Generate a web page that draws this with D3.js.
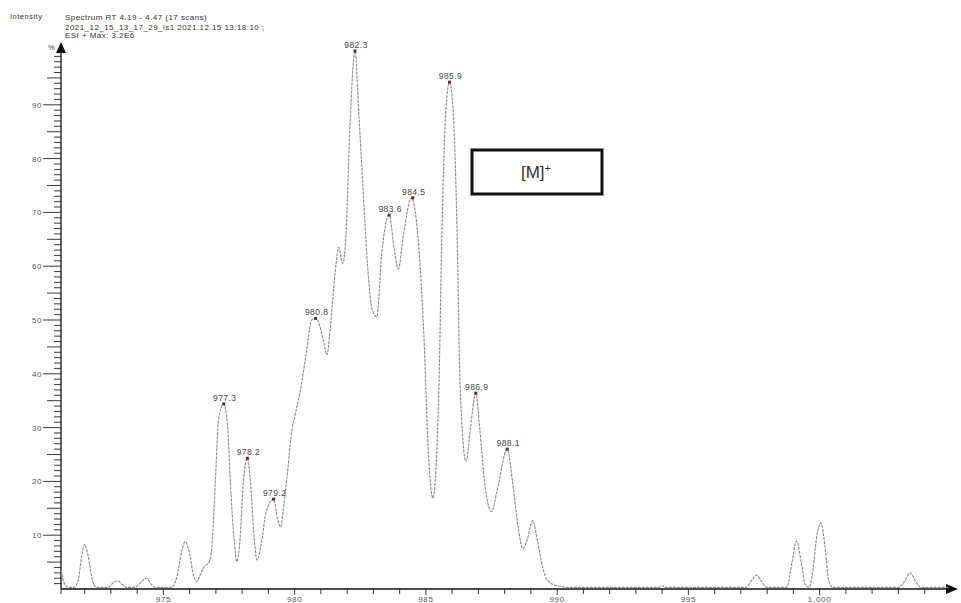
<!DOCTYPE html>
<html lang="en">
<head>
    <meta charset="UTF-8">
    <script src="https://d3js.org/d3.v7.min.js"></script>
    <title>Spectrum RT 4.19 - 4.47</title>
    <style>
        body { margin: 0; background: #fff; }
        svg text { font-family: "Liberation Sans", Arial, sans-serif; }
    </style>
</head>
<body>
    <script>
        // profil du spectre : m/z et intensité relative (%)
        var mz = [971.10, 971.25, 971.40, 971.60, 971.75, 971.90, 972.00, 972.12, 972.30, 972.45,
                  972.90, 973.10, 973.25, 973.45, 973.60, 973.90, 974.20, 974.35, 974.55, 974.70,
                  975.30, 975.50, 975.70, 975.83, 976.00, 976.15, 976.27, 976.40, 976.52, 976.75,
                  976.85, 976.98, 977.10, 977.30, 977.45, 977.55, 977.70, 977.80, 977.90, 978.05,
                  978.20, 978.33, 978.45, 978.57, 978.75, 978.90, 979.20, 979.35, 979.47, 979.55,
                  979.70, 979.90, 980.00, 980.20, 980.45, 980.65, 980.80, 980.95, 981.10, 981.23,
                  981.33, 981.45, 981.58, 981.68, 981.83, 981.96, 982.10, 982.30, 982.45, 982.60,
                  982.78, 982.95, 983.13, 983.32, 983.60, 983.80, 983.95, 984.15, 984.45, 984.60,
                  984.78, 984.92, 985.10, 985.27, 985.50, 985.60, 985.75, 985.90, 986.05, 986.20,
                  986.30, 986.53, 986.70, 986.90, 987.05, 987.24, 987.50, 987.70, 988.10, 988.30,
                  988.50, 988.70, 988.85, 989.07, 989.25, 989.45, 989.65, 990.00, 990.50, 993.90,
                  994.00, 994.10, 997.20, 997.40, 997.60, 997.80, 998.00, 998.75, 998.95, 999.12,
                  999.30, 999.45, 999.60, 999.70, 999.90, 1000.05, 1000.20, 1000.35, 1000.50, 1003.00,
                  1003.25, 1003.45, 1003.65, 1003.85, 1004.90];
        var intensity = [3.5, 0.8, 0.3, 0.3, 1.5, 6.5, 8.3, 6.5, 1.5, 0.3,
                         0.3, 1.2, 1.5, 0.8, 0.3, 0.3, 1.5, 2.0, 0.8, 0.3,
                         0.3, 2.0, 7.0, 8.8, 6.5, 2.5, 1.4, 2.6, 3.9, 5.1,
                         8.0, 20.0, 31.4, 34.4, 30.0, 20.0, 9.0, 5.1, 8.0, 20.0,
                         24.3, 19.0, 10.0, 5.4, 9.0, 14.0, 16.7, 13.0, 11.5, 14.0,
                         20.3, 29.6, 32.0, 36.4, 44.0, 50.0, 50.3, 49.0, 46.0, 43.5,
                         47.0, 53.7, 60.5, 63.5, 60.5, 66.0, 85.0, 100.0, 88.0, 75.0,
                         60.0, 52.0, 50.6, 62.4, 69.5, 63.0, 59.5, 66.0, 72.7, 70.0,
                         60.0, 47.6, 25.0, 16.9, 38.3, 63.6, 88.0, 94.2, 88.0, 63.6,
                         38.3, 23.7, 30.0, 36.4, 30.0, 19.7, 14.4, 18.0, 26.0, 20.0,
                         12.0, 7.5, 9.0, 12.7, 9.0, 4.0, 1.5, 0.6, 0.3, 0.3,
                         0.6, 0.3, 0.3, 1.5, 2.6, 1.3, 0.3, 0.3, 5.0, 8.9,
                         5.0, 0.8, 0.3, 2.0, 10.0, 12.3, 8.0, 1.5, 0.3, 0.3,
                         1.5, 3.0, 1.5, 0.3, 0.3];

        // pics annotés
        var peakMz = [977.3, 978.2, 979.2, 980.8, 982.3, 983.6, 984.5, 985.9, 986.9, 988.1];
        var peakInt = [34.4, 24.3, 16.7, 50.3, 100.0, 69.5, 72.7, 94.2, 36.4, 26.0];

        var xTickLabels = [975, 980, 985, 990, 995, 1000];
        var yTickLabels = [10, 20, 30, 40, 50, 60, 70, 80, 90];

        var headerLines = ["Spectrum RT 4.19 - 4.47 (17 scans)",
                           "2021_12_15_13_17_29_is1 2021.12.15 13:18:10 ;",
                           "ESI + Max: 3.2E6"];

        var width = 961, height = 603;

        var svg = d3.select("body").append("svg")
            .attr("width", width)
            .attr("height", height);

        var x = d3.scaleLinear().domain([971.1, 1005.1]).range([61, 953.5]);
        var y = d3.scaleLinear().domain([0, 100]).range([589, 51]);

        // en-tête (texte un peu étiré comme sur l'original)
        svg.append("text").attr("x", 10).attr("y", 19)
            .attr("font-size", 7.5).attr("letter-spacing", 0.5)
            .attr("fill", "#333").text("Intensity");
        svg.selectAll(".hdr").data(headerLines).join("text")
            .attr("class", "hdr")
            .attr("x", 65)
            .attr("y", function (d, i) { return [19.5, 29.5, 37.5][i]; })
            .attr("font-size", 8).attr("letter-spacing", 0.45)
            .attr("fill", "#333")
            .text(function (d) { return d; });

        // axe Y
        var yTicks = d3.range(1, 100);
        svg.selectAll(".ytick").data(yTicks).join("line")
            .attr("class", "ytick")
            .attr("x1", function (d) { return d % 10 === 0 ? 43 : (d % 5 === 0 ? 47 : 54); })
            .attr("x2", 61)
            .attr("y1", function (d) { return y(d); })
            .attr("y2", function (d) { return y(d); })
            .attr("stroke", "#222").attr("stroke-width", 0.9);
        svg.selectAll(".ylab").data(yTickLabels).join("text")
            .attr("class", "ylab")
            .attr("x", 42).attr("y", function (d) { return y(d) + 3; })
            .attr("text-anchor", "end").attr("font-size", 8).attr("letter-spacing", 0.6)
            .attr("fill", "#555")
            .text(function (d) { return d; });
        svg.append("line").attr("x1", 61).attr("x2", 61)
            .attr("y1", y(0)).attr("y2", 47)
            .attr("stroke", "#111").attr("stroke-width", 1.3);
        svg.append("path").attr("d", "M61,42 L56,53 L66,53 Z").attr("fill", "#111");
        svg.append("text").attr("x", 48).attr("y", 50)
            .attr("font-size", 7.5).attr("fill", "#444").text("%");

        // axe X
        var xTicks = d3.range(972, 1005);
        svg.selectAll(".xtick").data([971.1].concat(xTicks)).join("line")
            .attr("class", "xtick")
            .attr("x1", function (d) { return x(d); })
            .attr("x2", function (d) { return x(d); })
            .attr("y1", y(0))
            .attr("y2", function (d) { return d % 5 === 0 ? y(0) + 6 : y(0) + 5; })
            .attr("stroke", "#222").attr("stroke-width", 0.9);
        svg.selectAll(".xlab").data(xTickLabels).join("text")
            .attr("class", "xlab")
            .attr("x", function (d) { return x(d); })
            .attr("y", 602)
            .attr("text-anchor", "middle").attr("font-size", 8).attr("letter-spacing", 0.7)
            .attr("fill", "#555")
            .text(function (d) { return d3.format(",")(d); });
        svg.append("line").attr("x1", 61).attr("x2", 950)
            .attr("y1", y(0)).attr("y2", y(0))
            .attr("stroke", "#111").attr("stroke-width", 1.3);
        svg.append("path").attr("d", "M958,589 L946,584 L946,594 Z").attr("fill", "#111");

        // courbe du spectre
        var pts = mz.map(function (m, i) { return [m, intensity[i]]; });
        var line = d3.line()
            .x(function (d) { return x(d[0]); })
            .y(function (d) { return y(d[1]); })
            .curve(d3.curveMonotoneX);
        svg.append("path").datum(pts)
            .attr("d", line)
            .attr("fill", "none")
            .attr("stroke", "#8a8a8a")
            .attr("stroke-width", 1.1)
            .attr("stroke-dasharray", "3,1");

        // marqueurs et étiquettes des pics
        svg.selectAll(".pk").data(peakMz).join("rect")
            .attr("class", "pk")
            .attr("x", function (d) { return x(d) - 1.5; })
            .attr("y", function (d, i) { return y(peakInt[i]) - 1.5; })
            .attr("width", 3).attr("height", 3)
            .attr("fill", "#7a1f1f");
        svg.selectAll(".pklab").data(peakMz).join("text")
            .attr("class", "pklab")
            .attr("x", function (d) { return x(d) + 1; })
            .attr("y", function (d, i) { return y(peakInt[i]) - 3; })
            .attr("text-anchor", "middle").attr("font-size", 8.5).attr("letter-spacing", 0.4)
            .attr("fill", "#444")
            .text(function (d) { return d.toFixed(1); });

        // encadré [M]+
        svg.append("rect").attr("x", 472).attr("y", 150)
            .attr("width", 130).attr("height", 44)
            .attr("fill", "none").attr("stroke", "#111").attr("stroke-width", 3);
        var lab = svg.append("text").attr("x", 536).attr("y", 178)
            .attr("text-anchor", "middle").attr("font-size", 17).attr("fill", "#333");
        lab.append("tspan").text("[M]");
        lab.append("tspan").attr("dy", -6).attr("font-size", 11).text("+");
    </script>
</body>
</html>
